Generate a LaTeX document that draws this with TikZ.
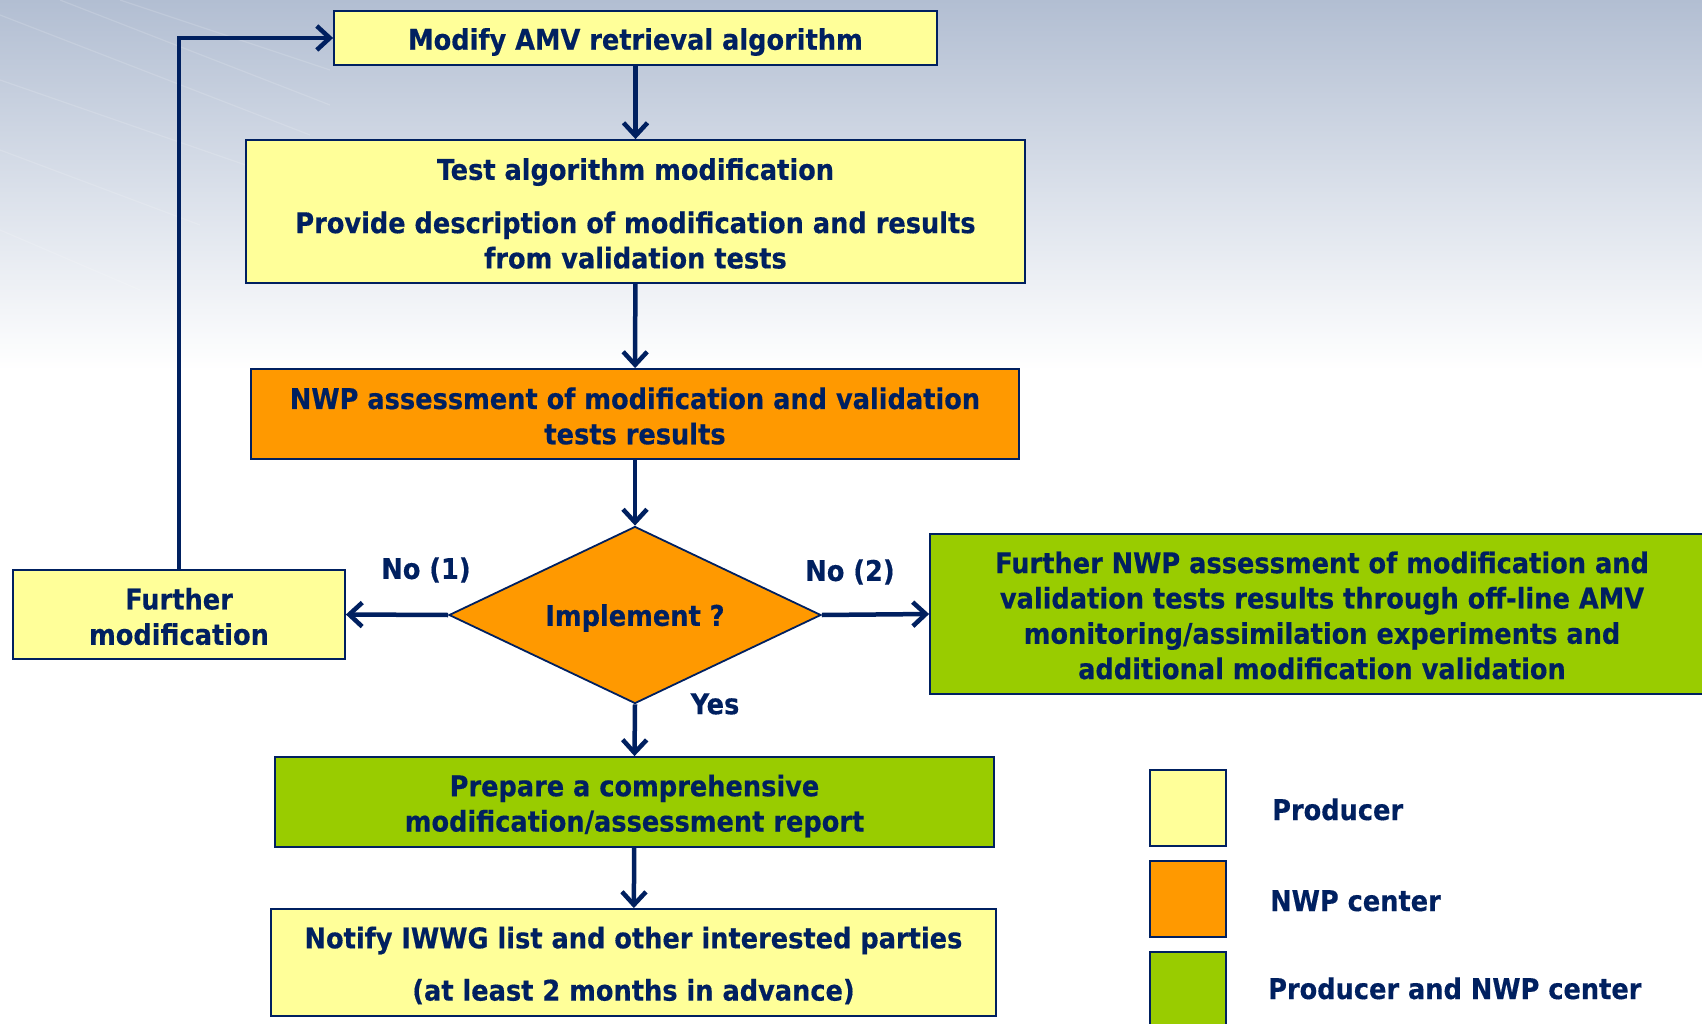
\documentclass[tikz,border=0pt]{standalone}
\usepackage{fontspec}
\setmainfont{DejaVu Sans Condensed}[BoldFeatures={FakeBold=0.4}]
\usetikzlibrary{arrows.meta,shapes.geometric}
\definecolor{navy}{RGB}{0,32,96}
\definecolor{pyellow}{RGB}{255,255,153}
\definecolor{porange}{RGB}{255,153,0}
\definecolor{pgreen}{RGB}{153,204,0}
\definecolor{bgtop}{RGB}{178,190,210}
\definecolor{bgmid}{RGB}{218,224,234}
\begin{document}
\begin{tikzpicture}[x=1pt,y=-1pt,
  box/.style={draw=navy, line width=1.8pt, inner sep=0pt},
  txt/.style={text=navy, align=center, inner sep=0pt,
    font=\bfseries\fontsize{28.5}{35.3}\selectfont},
  conn/.style={draw=navy, line width=4.5pt, -{Straight Barb[length=13pt,width=24pt]}}]
\useasboundingbox (0,0) rectangle (1702,1024);
\clip (0,0) rectangle (1702,1024);
% background
\fill[white] (0,0) rectangle (1702,1024);
\shade[top color=bgtop, bottom color=bgmid] (0,0) rectangle (1702,190);
\shade[top color=bgmid, bottom color=white] (0,189) rectangle (1702,370);
\begin{scope}[white, opacity=0.15, line width=1.2pt]
  \draw (60,0) -- (330,105);
  \draw (0,15) -- (310,135);
  \draw (0,80) -- (260,170);
  \draw (0,150) -- (200,225);
  \draw (120,0) -- (330,70);
  \draw (0,230) -- (140,290);
\end{scope}
% boxes
\node[box, fill=pyellow, minimum width=603pt, minimum height=54pt] (b1) at (635.5,38) {};
\node[box, fill=pyellow, minimum width=779pt, minimum height=143pt] (b2) at (635.5,211.5) {};
\node[box, fill=porange, minimum width=768pt, minimum height=90pt] (b3) at (635,414) {};
\node[box, fill=porange, shape=diamond, aspect=2.1, minimum width=372pt, minimum height=177pt] (dia) at (635,615) {};
\node[box, fill=pyellow, minimum width=332pt, minimum height=89pt] (fm) at (179,614.5) {};
\node[box, fill=pgreen, minimum width=784pt, minimum height=160pt] (fn) at (1322,614) {};
\node[box, fill=pgreen, minimum width=719pt, minimum height=90pt] (pr) at (634.5,802) {};
\node[box, fill=pyellow, minimum width=725pt, minimum height=107pt] (nt) at (633.5,962.5) {};
% box texts
\node[txt] (b1t) at ([yshift=-4pt]b1.center) {Modify AMV retrieval algorithm};
\node[txt] (b2t) at ([yshift=-2pt]b2.center)
  {Test algorithm modification\\[18pt]Provide description of modification and results\\from validation tests};
\node[txt] (b3t) at ([yshift=-2pt]b3.center) {NWP assessment of modification and validation\\tests results};
\node[txt] (diat) at ([yshift=-3pt]dia.center) {Implement ?};
\node[txt] (fmt) at ([yshift=-2pt]fm.center) {Further\\modification};
\node[txt] (fnt) at ([yshift=-1.5pt]fn.center)
  {Further NWP assessment of modification and\\validation tests results through off-line AMV\\monitoring/assimilation experiments and\\additional modification validation};
\node[txt] (prt) at ([yshift=-4pt]pr.center) {Prepare a comprehensive\\modification/assessment report};
\node[txt] (ntt) at ([yshift=-3pt]nt.center)
  {Notify IWWG list and other interested parties\\[17pt](at least 2 months in advance)};
% legend
\node[box, fill=pyellow, minimum width=76pt, minimum height=76pt] (lg1) at (1188,808) {};
\node[box, fill=porange, minimum width=76pt, minimum height=76pt] (lg2) at (1188,899) {};
\node[box, fill=pgreen, minimum width=76pt, minimum height=80pt] (lg3) at (1188,992) {};
\node[txt, anchor=base west] (t1) at (1272,820) {Producer};
\node[txt, anchor=base west] (t2) at (1270,911) {NWP center};
\node[txt, anchor=base west] (t3) at (1268,999) {Producer and NWP center};
% labels
\node[txt] (no1) at (426,570) {No (1)};
\node[txt] (no2) at (850,572) {No (2)};
\node[txt] (yes) at (715,704) {Yes};
% connectors
\draw[conn] (b1) -- (b2);
\draw[conn] (b2) -- (b3);
\draw[conn] (b3) -- (dia);
\draw[conn] (dia.west) -- (fm.east);
\draw[conn] (dia.east) -- (fn.west);
\draw[conn] (dia.south) -- (pr.north);
\draw[conn] (pr) -- (nt);
\draw[conn] (fm.north) |- (b1.west);
\end{tikzpicture}
\end{document}
